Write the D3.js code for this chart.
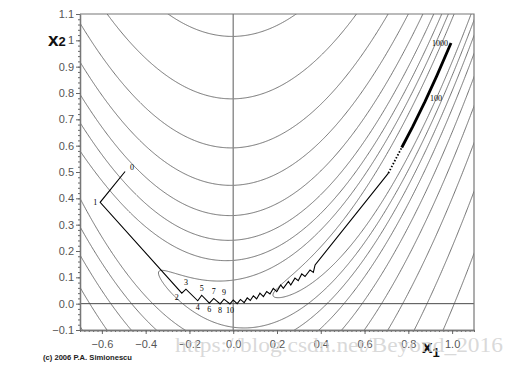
<!DOCTYPE html>
<html>
<head>
<meta charset="utf-8">
<script src="https://cdn.jsdelivr.net/npm/d3@7"></script>
<style>
  body { margin: 0; background: #fff; }
  svg { display: block; }
  .tick text { font-family: "Liberation Sans", Arial, sans-serif; font-size: 11px; fill: #555; }
</style>
</head>
<body>
<svg id="chart"></svg>
<script>
// contour levels of the banana function
const levels = [0.67, 1.8, 3.7, 6.8, 12.2, 21.2, 36, 61.5, 104, 175];

// tick values and their labels
const xTicks = [-0.6, -0.4, -0.2, 0.0, 0.2, 0.4, 0.6, 0.8, 1.0];
const xTickLabels = ["\u22120.6", "\u22120.4", "\u22120.2", "0.0", "0.2", "0.4", "0.6", "0.8", "1.0"];
const yTicks = [-0.1, 0.0, 0.1, 0.2, 0.3, 0.4, 0.5, 0.6, 0.7, 0.8, 0.9, 1.0, 1.1];
const yTickLabels = ["\u22120.1", "0.0", "0.1", "0.2", "0.3", "0.4", "0.5", "0.6", "0.7", "0.8", "0.9", "1", "1.1"];

// steepest descent iterates (x1, x2)
const pathX = [-0.494, -0.608, -0.235, -0.216, -0.162, -0.144, -0.109, -0.089, -0.060, -0.042, -0.015,
  0.000, 0.018, 0.033, 0.050, 0.064, 0.078, 0.092, 0.107, 0.122, 0.138, 0.153, 0.168, 0.183, 0.199,
  0.217, 0.229, 0.252, 0.263, 0.282, 0.297, 0.313, 0.328, 0.351, 0.366, 0.374,
  0.709, 0.770, 0.820, 0.876, 0.930, 0.995];
const pathY = [0.502, 0.385, 0.040, 0.055, 0.011, 0.032, 0.002, 0.020, -0.001, 0.017, -0.001,
  0.014, 0.000, 0.016, 0.004, 0.022, 0.012, 0.030, 0.018, 0.040, 0.027, 0.046, 0.037, 0.058, 0.046,
  0.071, 0.058, 0.084, 0.071, 0.097, 0.087, 0.113, 0.103, 0.128, 0.119, 0.147,
  0.496, 0.593, 0.672, 0.767, 0.865, 0.990];

// iteration labels: text and the index of the point they belong to
const iterText = ["0", "1", "2", "3", "4", "5", "6", "7", "8", "9", "10", "100", "1000"];
const iterIndex = [0, 1, 2, 3, 4, 5, 6, 7, 8, 9, 10, 39, 41];
const iterSide = ["right", "left", "downleft", "up", "down", "up", "down", "up", "down", "up", "down", "right", "left"];

var svgWidth = 516, svgHeight = 367;
var svg = d3.select("#chart").attr("width", svgWidth).attr("height", svgHeight);

var x = d3.scaleLinear().domain([-0.7, 1.1]).range([80, 474]);
var y = d3.scaleLinear().domain([-0.1, 1.1]).range([330, 14]);

function banana(a, b) {
  return (1 - a) * (1 - a) + 100 * (b - a * a) * (b - a * a);
}

// sample the function on a grid a bit larger than the plot, then clip
var gx0 = -0.75, gy0 = -0.15, step = 0.004;
var nx = Math.ceil((1.15 - gx0) / step), ny = Math.ceil((1.15 - gy0) / step);
var values = new Array(nx * ny);
for (var j = 0; j < ny; j++) {
  for (var i = 0; i < nx; i++) {
    values[j * nx + i] = banana(gx0 + (i + 0.5) * step, gy0 + (j + 0.5) * step);
  }
}
var contours = d3.contours().size([nx, ny]).thresholds(levels)(values);

var toScreen = d3.geoTransform({
  point: function(px, py) {
    this.stream.point(x(gx0 + px * step), y(gy0 + py * step));
  }
});
var geo = d3.geoPath(toScreen);

svg.append("clipPath").attr("id", "plotclip")
  .append("rect").attr("x", 80).attr("y", 14).attr("width", 394).attr("height", 316);

var plot = svg.append("g").attr("clip-path", "url(#plotclip)");

plot.selectAll("path.contour")
  .data(contours)
  .enter().append("path")
  .attr("class", "contour")
  .attr("d", geo)
  .attr("fill", "none")
  .attr("stroke", "#626262")
  .attr("stroke-width", 0.9);

// zero lines
plot.append("line")
  .attr("x1", x(0)).attr("x2", x(0)).attr("y1", y(1.1)).attr("y2", y(-0.1))
  .attr("stroke", "#8a8a8a").attr("stroke-width", 1.4);
plot.append("line")
  .attr("x1", x(-0.7)).attr("x2", x(1.1)).attr("y1", y(0)).attr("y2", y(0))
  .attr("stroke", "#4a4a4a").attr("stroke-width", 1);

// frame top and right
svg.append("path")
  .attr("d", "M" + x(-0.7) + "," + y(1.1) + "H" + x(1.1) + "V" + y(-0.1))
  .attr("fill", "none").attr("stroke", "#777").attr("stroke-width", 1.2);

// the descent path
var pts = pathX.map(function(v, k) { return [v, pathY[k]]; });
var line = d3.line().x(d => x(d[0])).y(d => y(d[1]));
var thickFrom = 37;

plot.append("path")
  .attr("d", line(pts.slice(0, 37)))
  .attr("fill", "none").attr("stroke", "#000").attr("stroke-width", 1.1);
plot.append("path")
  .attr("d", line(pts.slice(36, 38)))
  .attr("fill", "none").attr("stroke", "#000").attr("stroke-width", 1.8)
  .attr("stroke-dasharray", "1.5,1.8");
plot.append("path")
  .attr("d", line(pts.slice(thickFrom)))
  .attr("fill", "none").attr("stroke", "#000").attr("stroke-width", 2.8);

// iteration numbers
var off = {
  right: [5, -1, "start"], left: [-3, 3, "end"], downleft: [-3, 7, "end"],
  up: [0, -4, "middle"], down: [0, 9, "middle"]
};
svg.selectAll("text.iter")
  .data(iterText)
  .enter().append("text")
  .attr("class", "iter")
  .attr("x", (d, k) => x(pathX[iterIndex[k]]) + off[iterSide[k]][0])
  .attr("y", (d, k) => y(pathY[iterIndex[k]]) + off[iterSide[k]][1])
  .attr("text-anchor", (d, k) => off[iterSide[k]][2])
  .style("font-family", "Liberation Serif, serif")
  .style("font-size", "8px")
  .style("fill", "#000")
  .text(d => d);

// axes with minor ticks
var yMinor = d3.range(-0.1, 1.1001, 0.02);
var xMinor = d3.range(-0.7, 1.1001, 0.02);

var yMinorAxis = d3.axisLeft(y).tickValues(yMinor).tickSize(2).tickSizeOuter(0).tickFormat("");
var xMinorAxis = d3.axisBottom(x).tickValues(xMinor).tickSize(2).tickSizeOuter(0).tickFormat("");
var yAxis = d3.axisLeft(y).tickValues(yTicks).tickSize(4).tickSizeOuter(0).tickPadding(2)
  .tickFormat((d, k) => yTickLabels[k]);
var xAxis = d3.axisBottom(x).tickValues(xTicks).tickSize(4).tickSizeOuter(0).tickPadding(6)
  .tickFormat((d, k) => xTickLabels[k]);

var gy = svg.append("g").attr("transform", "translate(80,0)");
gy.call(yMinorAxis);
gy.append("g").call(yAxis);
var gx = svg.append("g").attr("transform", "translate(0,330)");
gx.call(xMinorAxis);
gx.append("g").call(xAxis);

svg.selectAll(".domain").attr("stroke", "#777").attr("stroke-width", 1.3);
svg.selectAll(".tick line").attr("stroke", "#666");
svg.selectAll(".tick text").attr("fill", "#555");

// axis titles
var t2 = svg.append("text").attr("x", 48).attr("y", 46)
  .style("font-family", "Liberation Sans, Arial, sans-serif").style("font-weight", "bold").style("fill", "#111");
t2.append("tspan").style("font-size", "19px").text("x");
t2.append("tspan").style("font-size", "13px").attr("dy", 0).text("2");

var t1 = svg.append("text").attr("x", 422).attr("y", 353)
  .style("font-family", "Liberation Sans, Arial, sans-serif").style("font-weight", "bold").style("fill", "#111");
t1.append("tspan").style("font-size", "19px").text("x");
t1.append("tspan").style("font-size", "13px").attr("dy", 4).text("1");

svg.append("text").attr("x", 43).attr("y", 360)
  .attr("textLength", 89).attr("lengthAdjust", "spacingAndGlyphs")
  .style("font-family", "Liberation Sans, Arial, sans-serif").style("font-weight", "bold")
  .style("font-size", "7.5px").style("fill", "#222")
  .text("(c) 2006  P.A. Simionescu");

// blog watermark
svg.append("text").attr("x", 175).attr("y", 352)
  .attr("textLength", 328).attr("lengthAdjust", "spacingAndGlyphs")
  .style("font-family", "Liberation Serif, serif").style("font-size", "20px")
  .style("fill", "#cfcfcf").style("fill-opacity", 0.8)
  .text("https://blog.csdn.net/Beyond_2016");
</script>
</body>
</html>
